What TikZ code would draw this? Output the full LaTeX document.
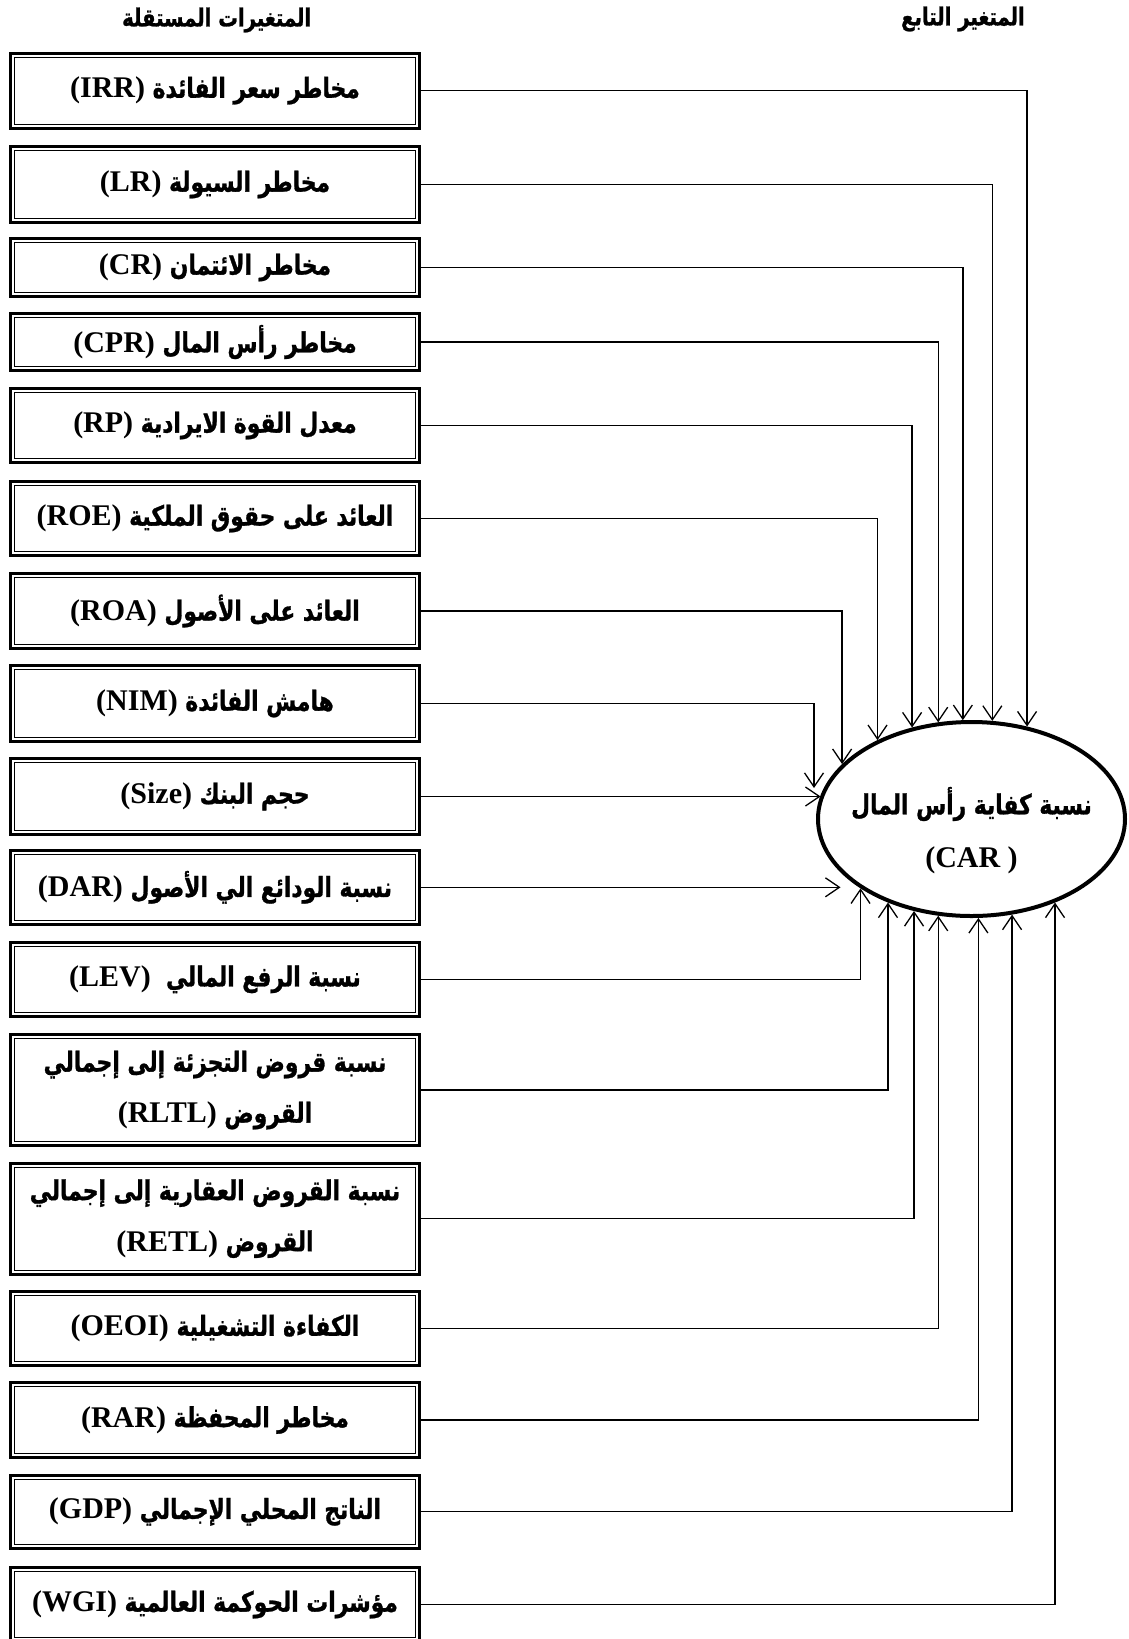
\documentclass[tikz,border=0pt]{standalone}
\usepackage{fontspec}
\setmainfont{Liberation Serif}
\newfontfamily\arfont[Script=Arabic,Scale=0.92,FakeStretch=0.79,FakeBold=1]{DejaVu Sans}
\TeXXeTstate=1
\usetikzlibrary{arrows.meta,shapes.geometric}
\newcommand\LatinPart[1]{\beginL{\rmfamily\bfseries #1}\endL}
\newcommand\ArLine[1]{\beginR #1\endR}
\begin{document}
\begin{tikzpicture}[x=1pt,y=1pt,
  vbox/.style={draw, line width=3pt, minimum width=408.4pt, inner sep=0pt, align=center,
    font=\fontsize{30}{51}\selectfont\bfseries\arfont},
  hdr/.style={inner sep=0pt, font=\fontsize{27}{30}\selectfont\bfseries\arfont},
  ellnode/.style={draw, ellipse, line width=4pt, inner sep=-45pt, align=center,
    minimum width=307pt, minimum height=194pt,
    font=\fontsize{30}{53}\selectfont\bfseries\arfont},
  conn/.style={line width=1.3pt, -{Straight Barb[length=14pt,width=19pt]}},
  inner/.style={line width=1pt}]
\useasboundingbox (0,0) rectangle (1129,-1639);
% headers
\node[hdr] (hIV) at (216.7,-20) {\ArLine{المتغيرات المستقلة}};
\node[hdr] (hDV) at (963,-19) {\ArLine{المتغير التابع}};
% independent variables
\node[vbox, minimum height=74.7pt] (IRR) at (215,-90.65) {\ArLine{مخاطر سعر الفائدة \LatinPart{(IRR)}}};
\node[vbox, minimum height=76pt] (LR) at (215,-184.5) {\ArLine{مخاطر السيولة \LatinPart{(LR)}}};
\node[vbox, minimum height=58pt] (CR) at (215,-267.5) {\ArLine{مخاطر الائتمان \LatinPart{(CR)}}};
\node[vbox, minimum height=57pt] (CPR) at (215,-342) {\ArLine{مخاطر رأس المال \LatinPart{(CPR)}}};
\node[vbox, minimum height=74pt] (RP) at (215,-425.5) {\ArLine{معدل القوة الايرادية \LatinPart{(RP)}}};
\node[vbox, minimum height=74pt] (ROE) at (215,-518.5) {\ArLine{العائد على حقوق الملكية \LatinPart{(ROE)}}};
\node[vbox, minimum height=75pt] (ROA) at (215,-611) {\ArLine{العائد على الأصول \LatinPart{(ROA)}}};
\node[vbox, minimum height=76pt] (NIM) at (215,-703.5) {\ArLine{هامش الفائدة \LatinPart{(NIM)}}};
\node[vbox, minimum height=76pt] (Size) at (215,-796.5) {\ArLine{حجم البنك \LatinPart{(Size)}}};
\node[vbox, minimum height=74.4pt] (DAR) at (215,-887.3) {\ArLine{نسبة الودائع الي الأصول \LatinPart{(DAR)}}};
\node[vbox, minimum height=73.6pt] (LEV) at (215,-979.3) {\ArLine{نسبة الرفع المالي \ \LatinPart{(LEV)}}};
\node[vbox, minimum height=111pt] (RLTL) at (215,-1090) {\ArLine{نسبة قروض التجزئة إلى إجمالي}\\\ArLine{القروض \LatinPart{(RLTL)}}};
\node[vbox, minimum height=111pt] (RETL) at (215,-1218.6) {\ArLine{نسبة القروض العقارية إلى إجمالي}\\\ArLine{القروض \LatinPart{(RETL)}}};
\node[vbox, minimum height=74pt] (OEOI) at (215,-1328.5) {\ArLine{الكفاءة التشغيلية \LatinPart{(OEOI)}}};
\node[vbox, minimum height=75pt] (RAR) at (215,-1420) {\ArLine{مخاطر المحفظة \LatinPart{(RAR)}}};
\node[vbox, minimum height=73.5pt] (GDP) at (215,-1511.8) {\ArLine{الناتج المحلي الإجمالي \LatinPart{(GDP)}}};
\node[vbox, minimum height=74pt] (WGI) at (215,-1604.5) {\ArLine{مؤشرات الحوكمة العالمية \LatinPart{(WGI)}}};
\foreach \n in {IRR,LR,CR,CPR,RP,ROE,ROA,NIM,Size,DAR,LEV,RLTL,RETL,OEOI,RAR,GDP,WGI}
  \draw[inner] ([shift={(5.5,-5.5)}]\n.north west) rectangle ([shift={(-5.5,5.5)}]\n.south east);
% dependent variable
\node[ellnode] (ell) at (971.5,-819) {\rule{0pt}{50pt}\ArLine{نسبة كفاية رأس المال}\\\LatinPart{(CAR )}};
\coordinate (nimtip) at (814,-788);
% connectors from above
\draw[conn] (IRR.east) -| (ell.59.71);
\draw[conn] (LR.east) -| (ell.78.88);
\draw[conn] (CR.east) -| (ell.95.61);
\draw[conn] (CPR.east) -| (ell.109.83);
\draw[conn] (RP.east) -| (ell.123.19);
\draw[conn] (ROE.east) -| (ell.140.37);
\draw[conn] (ROA.east) -| (ell.157.22);
\draw[conn] (NIM.east) -| (nimtip);
% horizontal connectors
\draw[conn] (Size.east) -- (Size.east -| ell.171.55);
\draw[conn, shorten >=20pt] (DAR.east) -- (DAR.east -| ell.-148.76);
% connectors from below
\draw[conn] (LEV.east) -| (ell.-148.74);
\draw[conn] (RLTL.east) -| (ell.-135.95);
\draw[conn] (RETL.east) -| (ell.-122.68);
\draw[conn] (OEOI.east) -| (ell.-109.49);
\draw[conn] (RAR.east) -| (ell.-86.07);
\draw[conn] (GDP.east) -| (ell.-67.75);
\draw[conn] (WGI.east) -| (ell.-45.83);
\end{tikzpicture}
\end{document}
